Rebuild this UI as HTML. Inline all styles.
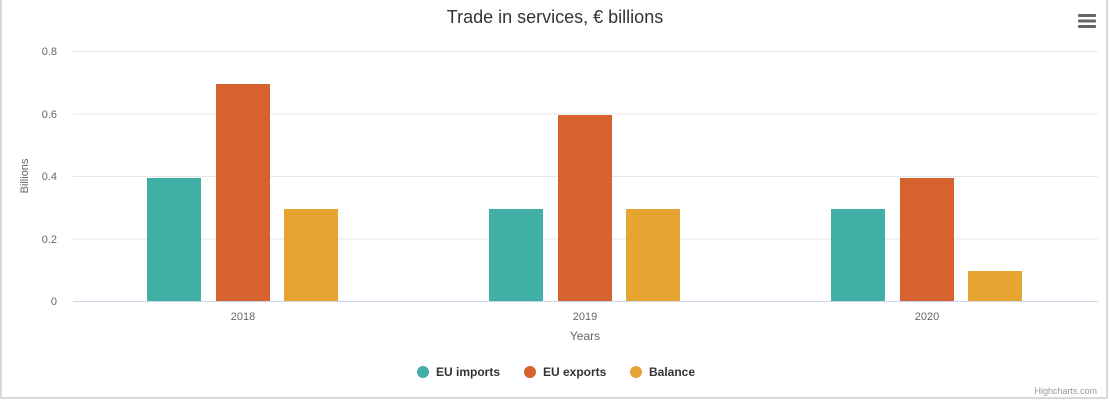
<!DOCTYPE html>
<html><head><meta charset="utf-8"><style>
body{margin:0;background:#fff}
svg{display:block;font-family:"Liberation Sans","DejaVu Sans",sans-serif}
</style></head><body>
<svg width="1110" height="403" viewBox="0 0 1110 403">
<rect x="1" y="-2" width="1106" height="400" fill="#fff" stroke="#ccc" stroke-width="1.5"/>
<text x="555" y="23" text-anchor="middle" font-size="18" fill="#333">Trade in services, € billions</text>
<g fill="#666"><rect x="1078" y="14" width="18" height="3" rx="1"/><rect x="1078" y="19.5" width="18" height="3" rx="1"/><rect x="1078" y="25" width="18" height="3" rx="1"/></g>
<g stroke="#e6e6e6" stroke-width="1">
<line x1="73" x2="1098" y1="51.5" y2="51.5"/><line x1="73" x2="1098" y1="114" y2="114"/>
<line x1="73" x2="1098" y1="176.5" y2="176.5"/><line x1="73" x2="1098" y1="239" y2="239"/>
</g>
<g font-size="11" fill="#666" text-anchor="end">
<text x="57" y="55">0.8</text><text x="57" y="118">0.6</text><text x="57" y="180">0.4</text><text x="57" y="243">0.2</text><text x="57" y="305">0</text>
</g>
<text transform="translate(28,176) rotate(-90)" text-anchor="middle" font-size="11" fill="#666">Billions</text>
<rect x="147" y="178" width="54" height="123" fill="#40b0a6"/>
<rect x="216" y="84" width="54" height="217" fill="#d6632f"/>
<rect x="284" y="209" width="54" height="92" fill="#e6a532"/>
<rect x="489" y="209" width="54" height="92" fill="#40b0a6"/>
<rect x="558" y="115" width="54" height="186" fill="#d6632f"/>
<rect x="626" y="209" width="54" height="92" fill="#e6a532"/>
<rect x="831" y="209" width="54" height="92" fill="#40b0a6"/>
<rect x="900" y="178" width="54" height="123" fill="#d6632f"/>
<rect x="968" y="271" width="54" height="30" fill="#e6a532"/>
<line x1="73" x2="1098" y1="301.5" y2="301.5" stroke="#ccd6eb"/>
<g font-size="11" fill="#666" text-anchor="middle">
<text x="243" y="320">2018</text><text x="585" y="320">2019</text><text x="927" y="320">2020</text>
</g>
<text x="585" y="340" text-anchor="middle" font-size="12" fill="#666">Years</text>
<g font-size="12" font-weight="bold" fill="#333">
<circle cx="423" cy="372" r="6" fill="#40b0a6"/><text x="436" y="376">EU imports</text>
<circle cx="530" cy="372" r="6" fill="#d6632f"/><text x="543" y="376">EU exports</text>
<circle cx="636" cy="372" r="6" fill="#e6a532"/><text x="649" y="376">Balance</text>
</g>
<text x="1097" y="394" text-anchor="end" font-size="9" fill="#999">Highcharts.com</text>
</svg>
</body></html>
